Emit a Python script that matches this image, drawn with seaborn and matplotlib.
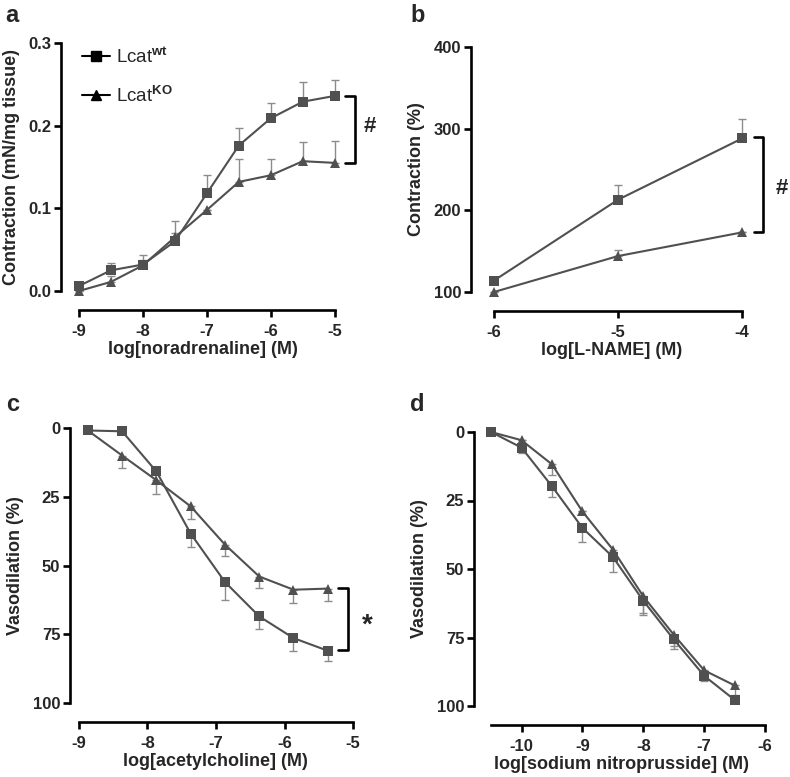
import numpy as np
import pandas as pd
import seaborn as sns
import matplotlib.pyplot as plt
from matplotlib.lines import Line2D

sns.set_style('ticks')
plt.rcParams['font.family'] = ['Liberation Sans', 'DejaVu Sans']
plt.rcParams['font.weight'] = 'bold'
plt.rcParams['mathtext.fontset'] = 'custom'
plt.rcParams['mathtext.rm'] = 'Liberation Sans'

# --------- data ---------
# a: noradrenaline
nor_x = [-9, -8.5, -8, -7.5, -7, -6.5, -6, -5.5, -5]
nor_wt = [0.006, 0.025, 0.032, 0.060, 0.118, 0.176, 0.209, 0.229, 0.236]
nor_wt_err = [0.002, 0.009, 0.011, 0.010, 0.022, 0.021, 0.018, 0.024, 0.019]
nor_ko = [0.000, 0.011, 0.031, 0.065, 0.098, 0.132, 0.140, 0.157, 0.155]
nor_ko_err = [0.000, 0.007, 0.007, 0.020, 0.000, 0.028, 0.020, 0.023, 0.026]

# b: L-NAME
lname_x = [-6, -5, -4]
lname_wt = [114, 213, 288]
lname_wt_err = [0, 18, 24]
lname_ko = [100, 144, 173]
lname_ko_err = [0, 7, 0]

# c: acetylcholine
ach_x = [-8.87, -8.37, -7.87, -7.37, -6.87, -6.37, -5.87, -5.37]
ach_wt = [0.9, 1.2, 15.8, 38.4, 56.0, 68.5, 76.4, 81.0]
ach_wt_err = [0, 0, 0, 5.0, 6.7, 4.5, 4.8, 3.8]
ach_ko = [0.9, 10.0, 19.0, 28.5, 42.4, 54.0, 58.8, 58.4]
ach_ko_err = [0, 4.5, 5.0, 4.6, 4.0, 4.2, 4.8, 4.6]

# d: sodium nitroprusside
snp_x = [-10.5, -10, -9.5, -9, -8.5, -8, -7.5, -7, -6.5]
snp_wt = [0, 5.7, 19.8, 35.0, 45.6, 61.6, 75.7, 89.0, 97.8]
snp_wt_err = [0, 2.0, 4.0, 5.3, 5.4, 5.2, 3.6, 2.0, 0]
snp_ko = [0, 3.0, 11.8, 29.0, 42.9, 60.0, 74.0, 87.0, 92.5]
snp_ko_err = [0, 0, 4.0, 0, 3.0, 6.0, 4.0, 3.0, 3.5]

line_col = '#505050'
err_col = '#8c8c8c'
W, H = 790, 777

fig = plt.figure(figsize=(7.9, 7.77), dpi=100)


def px_axes(left, top, right, bottom):
    return fig.add_axes([left / W, 1 - bottom / H, (right - left) / W, (bottom - top) / H])


def draw(ax, x, wt, wt_err, ko, ko_err):
    for y, e in [(wt, wt_err), (ko, ko_err)]:
        ax.errorbar(x, y, yerr=[np.zeros(len(e)), e], fmt='none', ecolor=err_col,
                    elinewidth=1, capsize=3, capthick=1, clip_on=False, zorder=2)
    df = pd.DataFrame({'x': x * 2, 'y': list(wt) + list(ko),
                       'group': ['wt'] * len(x) + ['KO'] * len(x)})
    sns.lineplot(data=df, x='x', y='y', style='group', markers={'wt': 's', 'KO': '^'},
                 dashes=False, color=line_col, lw=1.5, markersize=7, markeredgewidth=0,
                 legend=False, ax=ax, clip_on=False, zorder=3)


def style(ax, xlim, xb, ylim, yb, xticks, yticks, ylabel, xlabel):
    ax.set_xlim(*xlim)
    ax.set_ylim(*ylim)
    ax.spines['top'].set_visible(False)
    ax.spines['right'].set_visible(False)
    for s in ['left', 'bottom']:
        ax.spines[s].set_linewidth(1.9)
        ax.spines[s].set_color('black')
    ax.spines['bottom'].set_position(('outward', 13.5))
    ax.spines['bottom'].set_bounds(*xb)
    ax.spines['left'].set_bounds(*yb)
    ax.set_xticks(xticks)
    ax.set_yticks(yticks)
    ax.tick_params(width=1.9, length=5, labelsize=12, color='black')
    ax.tick_params(axis='y', pad=2)
    ax.tick_params(axis='x', pad=5)
    for lab in ax.get_xticklabels() + ax.get_yticklabels():
        lab.set_fontweight('bold')
    ax.set_xlabel(xlabel, fontsize=13, fontweight='bold', labelpad=2)
    ax.set_ylabel(ylabel, fontsize=13, fontweight='bold', labelpad=6)


def bracket(ax, x0, x1, y0, y1, sym, sx, sy, fs=16):
    ax.plot([x0, x1, x1, x0], [y0, y0, y1, y1], color='black', lw=1.9, clip_on=False)
    ax.text(sx, sy, sym, fontsize=fs, fontweight='bold', ha='center', va='center')


# ---- a ----
ax = px_axes(61, 43, 345, 291)
draw(ax, nor_x, nor_wt, nor_wt_err, nor_ko, nor_ko_err)
style(ax, (-9.28, -4.84), (-9, -5), (0, 0.3), (0, 0.3), [-9, -8, -7, -6, -5],
      [0, 0.1, 0.2, 0.3], 'Contraction (mN/mg tissue)', 'log[noradrenaline] (M)')
ax.set_yticklabels(['0.0', '0.1', '0.2', '0.3'])
ax.set_xticklabels(['-9', '-8', '-7', '-6', '-5'])
bracket(ax, -4.84, -4.69, 0.236, 0.155, '#', -4.45, 0.199)
handles = [Line2D([], [], color='black', marker='s', markersize=7, lw=1.5),
           Line2D([], [], color='black', marker='^', markersize=7, lw=1.5)]
leg = ax.legend(handles, [r'Lcat$^{\rm wt}$', r'Lcat$^{\rm KO}$'], loc='upper left',
                bbox_to_anchor=(0.015, 1.055), frameon=False, fontsize=13.5,
                handlelength=1.5, handletextpad=0.3, labelspacing=0.95)
for t in leg.get_texts():
    t.set_fontweight('normal')

# ---- b ----
ax = px_axes(471, 47, 752, 292)
draw(ax, lname_x, lname_wt, lname_wt_err, lname_ko, lname_ko_err)
style(ax, (-6.185, -3.92), (-6, -4), (100, 400), (100, 400), [-6, -5, -4],
      [100, 200, 300, 400], 'Contraction (%)', 'log[L-NAME] (M)')
ax.set_xticklabels(['-6', '-5', '-4'])
bracket(ax, -3.9, -3.83, 290, 173.5, '#', -3.68, 227)

# ---- c ----
ax = px_axes(70, 428, 360, 703)
draw(ax, ach_x, ach_wt, ach_wt_err, ach_ko, ach_ko_err)
style(ax, (-9.13, -4.9), (-9, -5), (100, 0), (0, 100), [-9, -8, -7, -6, -5],
      [0, 25, 50, 75, 100], 'Vasodilation (%)', 'log[acetylcholine] (M)')
ax.set_xticklabels(['-9', '-8', '-7', '-6', '-5'])
bracket(ax, -5.22, -5.07, 58, 80.6, '*', -4.8, 72, fs=20)

# ---- d ----
ax = px_axes(474, 432, 770, 706)
draw(ax, snp_x, snp_wt, snp_wt_err, snp_ko, snp_ko_err)
style(ax, (-10.78, -5.92), (-10.5, -6), (100, 0), (0, 100), [-10, -9, -8, -7, -6],
      [0, 25, 50, 75, 100], 'Vasodilation (%)', 'log[sodium nitroprusside] (M)')
ax.set_xticklabels(['-10', '-9', '-8', '-7', '-6'])

for lab, (x, y) in zip('abcd', [(5, 15), (410, 15), (6, 405), (410, 405)]):
    fig.text(x / W, 1 - y / H, lab, fontsize=17, fontweight='bold', ha='left', va='center')

fig.savefig('out.png', dpi=100)
